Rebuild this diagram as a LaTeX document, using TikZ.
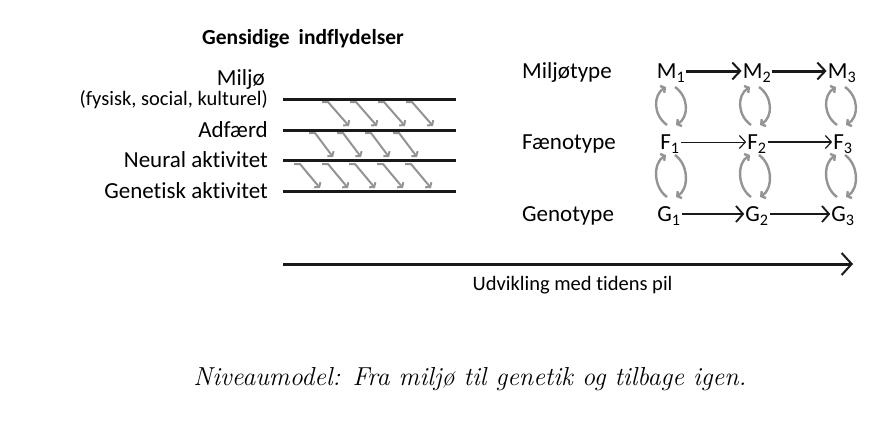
\documentclass[tikz,border=0pt]{standalone}
\usepackage{fontspec}
\newfontfamily\diagfont[Ligatures=NoCommon]{Carlito}
\usetikzlibrary{arrows.meta,positioning}

\begin{document}
\begin{tikzpicture}[
		x=1pt, y=-1pt,
		node distance=16pt,
		label text/.style={font=\diagfont\fontsize{23}{26}\selectfont, inner sep=0pt, text height=14.8pt, text depth=0pt},
		var/.style={font=\diagfont\fontsize{23}{26}\selectfont, inner sep=1pt, text height=14.8pt, text depth=0pt},
		level/.style={draw=black!90, line width=3pt},
		influence/.style={draw=black!42, line width=2pt, -{Straight Barb[length=3pt,width=8pt]}},
		cycle arrow/.style={draw=black!42, line width=2.4pt, -{Straight Barb[length=3pt,width=8pt]}},
		timeline/.style={draw=black!90, line width=3pt, -{Straight Barb[length=10pt,width=22pt,line width=2pt]}},
		bigstep/.style={draw=black!90, line width=3pt, -{Straight Barb[length=8pt,width=17pt,line width=2pt]}},
		thinstep/.style={draw=black!90, line width=0.9pt, -{Straight Barb[length=6pt,width=13pt,line width=1.2pt]}},
		midstep/.style={draw=black!90, line width=2pt, -{Straight Barb[length=7pt,width=16pt,line width=1.8pt]}},
	]
		\useasboundingbox (0,0) rectangle (895,423);

		% levels
		\foreach \y/\name in {99/milj,130/adf,160/neur,191/gen} {
			\coordinate (\name w) at (283,\y);
			\coordinate (\name e) at (456,\y);
			\draw[level] (\name w) -- (\name e);
		}
		\node[label text, font=\diagfont\fontsize{20.5}{23}\selectfont, text height=13.2pt, left=15pt of miljw] (fysisk) {(fysisk, social, kulturel)};
		\node[label text, anchor=east] (milj) at (265,78) {Miljø};
		\node[label text, left=15pt of adfw] (adf) {Adfærd};
		\node[label text, left=15pt of neurw] (neur) {Neural aktivitet};
		\node[label text, left=15pt of genw] (gen) {Genetisk aktivitet};
		\node[label text, font=\diagfont\bfseries\fontsize{21.5}{24}\selectfont] (title) at (303,37) {Gensidige\hspace{9pt}indflydelser};

		% gensidige pile
		\foreach \x in {328,356,384,412}
			\draw[influence] (\x-6,102) -- (\x,102) -- ++(21,24);
		\foreach \x in {315,343,371,399}
			\draw[influence] (\x-6,133) -- (\x,133) -- ++(18,24);
		\foreach \x in {300,328,355,383,411}
			\draw[influence] (\x-6,164) -- (\x,164) -- ++(20,24);

		% typer
		\node[label text, anchor=west] (miljotype) at (522,71) {Miljøtype};
		\node[label text, anchor=west] (fenotype) at (522,142) {Fænotype};
		\node[label text, anchor=west] (genotype) at (522,214) {Genotype};

		\node[var] (m1) at (671,71) {M\textsubscript{1}};
		\node[var] (m2) at (757,71) {M\textsubscript{2}};
		\node[var] (m3) at (842,71) {M\textsubscript{3}};
		\node[var] (f1) at (670,142) {F\textsubscript{1}};
		\node[var] (f2) at (757,142) {F\textsubscript{2}};
		\node[var] (f3) at (843,142) {F\textsubscript{3}};
		\node[var] (g1) at (669,214) {G\textsubscript{1}};
		\node[var] (g2) at (757,214) {G\textsubscript{2}};
		\node[var] (g3) at (843,214) {G\textsubscript{3}};

		\draw[bigstep] (m1) -- (m2);
		\draw[bigstep] (m2) -- (m3);
		\draw[thinstep] (f1) -- (f2);
		\draw[thinstep, line width=1.3pt] (f2) -- (f3);
		\draw[midstep] (g1) -- (g2);
		\draw[midstep] (g2) -- (g3);

		% cykler mellem niveauer
		\foreach \cx in {671,755,841}
			\foreach \yt/\yb in {87/125,155/197} {
				\draw[cycle arrow] (\cx-4,\yb) .. controls (\cx-18,\yb-10) and (\cx-18,\yt+8) .. (\cx-5,\yt);
				\draw[cycle arrow] (\cx+4,\yt) .. controls (\cx+18,\yt+10) and (\cx+18,\yb-8) .. (\cx+5,\yb);
			}

		% tidens pil
		\coordinate (t0) at (283,264);
		\coordinate (t1) at (853,264);
		\draw[timeline] (t0) -- (t1) node[pos=0.508, below=12pt, label text, font=\diagfont\fontsize{20.5}{23}\selectfont, text height=13.2pt] (udvikling) {Udvikling med tidens pil};

		\node[font=\itshape\fontsize{26}{30}\selectfont] (caption) at (470,379) {Niveaumodel: Fra miljø til genetik og tilbage igen.};
	\end{tikzpicture}
\end{document}
